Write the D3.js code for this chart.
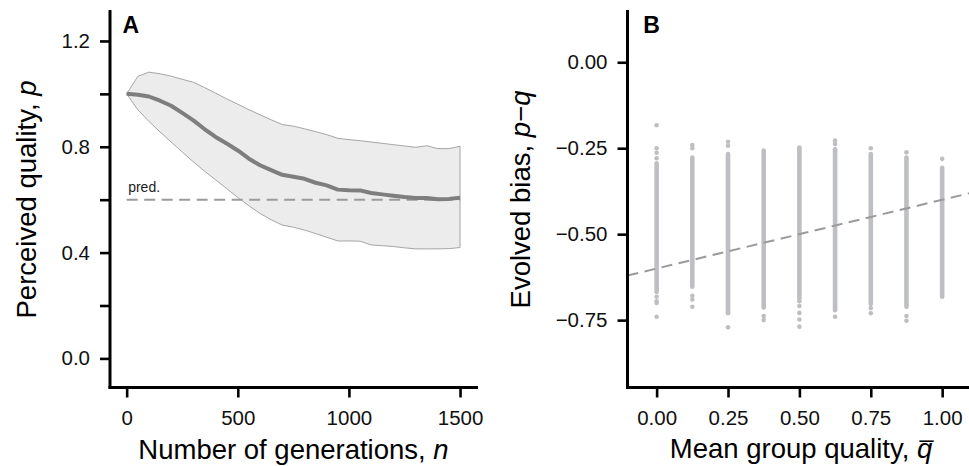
<!DOCTYPE html>
<html>
<head>
<meta charset="utf-8">
<script src="https://cdn.jsdelivr.net/npm/d3@7"></script>
<style>
  html, body { margin: 0; padding: 0; background: #fff; }
  svg { display: block; font-family: "Liberation Sans", Arial, Helvetica, sans-serif; }
</style>
</head>
<body>
<svg id="chart" width="969" height="466"></svg>
<script>
// ---------- Panel A data ----------
const generations = [0,50,100,150,200,250,300,350,400,450,500,550,600,650,700,750,800,850,900,950,1000,1050,1100,1150,1200,1250,1300,1350,1400,1450,1500];
const meanQuality  = [1.000,0.997,0.990,0.974,0.955,0.928,0.900,0.867,0.837,0.812,0.786,0.755,0.730,0.712,0.694,0.687,0.679,0.664,0.654,0.638,0.636,0.635,0.625,0.620,0.615,0.610,0.606,0.606,0.602,0.603,0.607];
const upperQuality = [1.000,1.066,1.082,1.076,1.067,1.055,1.044,1.024,1.003,0.981,0.961,0.940,0.921,0.902,0.884,0.878,0.868,0.857,0.846,0.832,0.827,0.823,0.818,0.813,0.808,0.803,0.798,0.804,0.793,0.793,0.802];
const lowerQuality = [1.000,0.940,0.896,0.856,0.818,0.780,0.743,0.708,0.675,0.642,0.608,0.577,0.548,0.524,0.504,0.496,0.485,0.472,0.458,0.444,0.444,0.443,0.429,0.426,0.423,0.418,0.414,0.414,0.414,0.415,0.419];
const predictedQuality = 0.6;
const xTicksA = [0,500,1000,1500];
const yTicksA = [0,0.2,0.4,0.6,0.8,1.0,1.2];
const yLabelledA = [0,0.4,0.8,1.2];

// ---------- Panel B data ----------
const groupQuality = [0,0.125,0.25,0.375,0.5,0.625,0.75,0.875,1.0];
const biasDenseLow  = [-0.668,-0.653,-0.730,-0.713,-0.687,-0.721,-0.703,-0.711,-0.682];
const biasDenseHigh = [-0.294,-0.277,-0.267,-0.257,-0.248,-0.253,-0.267,-0.277,-0.307];
const biasOutliers = [
  [-0.183,-0.250,-0.263,-0.279,-0.682,-0.695,-0.700,-0.740],
  [-0.241,-0.250,-0.679,-0.690,-0.711],
  [-0.231,-0.243,-0.771],
  [-0.738,-0.750],
  [-0.695,-0.709,-0.729,-0.748,-0.769],
  [-0.228,-0.238,-0.740],
  [-0.250,-0.715,-0.730],
  [-0.262,-0.738,-0.752],
  [-0.281]
];
const fitIntercept = -0.60;
const fitSlope = 0.20;
const xTicksB = [0,0.25,0.5,0.75,1.0];
const yTicksB = [0,-0.25,-0.5,-0.75];

// ---------- drawing ----------
const svg = d3.select("#chart");
const axisColor = "#000";
const tickFont = 20.5;
const titleFont = 27.5;

function styleAxis(g) {
  g.select(".domain").remove();
  g.selectAll(".tick line").attr("stroke", axisColor).attr("stroke-width", 2.6);
  g.selectAll(".tick text").attr("fill", "#111").style("font-size", tickFont + "px")
    .style("font-family", '"Liberation Sans", Arial, Helvetica, sans-serif');
}

// ===== Panel A =====
const xA = d3.scaleLinear().domain([-75, 1575]).range([110, 476.7]);
const yA = d3.scaleLinear().domain([-0.11, 1.317]).range([387.5, 10]);
const gA = svg.append("g");

const ribbon = d3.area()
  .x((d, i) => xA(generations[i]))
  .y0((d, i) => yA(lowerQuality[i]))
  .y1((d, i) => yA(upperQuality[i]));
gA.append("path").datum(generations)
  .attr("d", d => ribbon(d) + "Z")
  .attr("fill", "#ebeceb").attr("stroke", "#9c9c9c").attr("stroke-width", 0.9);

gA.append("line")
  .attr("x1", xA(0)).attr("x2", xA(1500))
  .attr("y1", yA(predictedQuality)).attr("y2", yA(predictedQuality))
  .attr("stroke", "#9a9a9a").attr("stroke-width", 2).attr("stroke-dasharray", "11,6.5");

gA.append("text").attr("x", xA(0) + 1.5).attr("y", yA(predictedQuality) - 8)
  .text("pred.").style("font-size", "14px").attr("fill", "#222");

const meanLine = d3.line().x((d, i) => xA(generations[i])).y((d, i) => yA(meanQuality[i]));
gA.append("path").datum(generations).attr("d", meanLine)
  .attr("fill", "none").attr("stroke", "#7e7e7e").attr("stroke-width", 4)
  .attr("stroke-linejoin", "round");

gA.append("g").attr("transform", "translate(0,387.5)")
  .call(d3.axisBottom(xA).tickValues(xTicksA).tickSize(10).tickPadding(12.5).tickFormat(d3.format("d")))
  .call(styleAxis);
gA.append("g").attr("transform", "translate(110,0)")
  .call(d3.axisLeft(yA).tickValues(yTicksA).tickSize(10).tickPadding(10)
    .tickFormat(d => yLabelledA.some(v => Math.abs(v - d) < 1e-9) ? d3.format(".1f")(d) : ""))
  .call(styleAxis);

gA.append("line").attr("x1", 110).attr("x2", 110).attr("y1", 10).attr("y2", 389)
  .attr("stroke", axisColor).attr("stroke-width", 3);
gA.append("line").attr("x1", 108.5).attr("x2", 478).attr("y1", 387.5).attr("y2", 387.5)
  .attr("stroke", axisColor).attr("stroke-width", 3);

gA.append("text").attr("x", 122.5).attr("y", 33.3).text("A")
  .style("font-size", "23px").style("font-weight", "bold");

const titleAx = gA.append("text").attr("x", (110 + 477) / 2).attr("y", 459)
  .attr("text-anchor", "middle").style("font-size", titleFont + "px");
titleAx.append("tspan").text("Number of generations, ");
titleAx.append("tspan").text("n").style("font-style", "italic");

const titleAy = gA.append("text").attr("transform", "translate(36," + ((10 + 389) / 2) + ") rotate(-90)")
  .attr("text-anchor", "middle").style("font-size", titleFont + "px");
titleAy.append("tspan").text("Perceived quality, ");
titleAy.append("tspan").text("p").style("font-style", "italic");

// ===== Panel B =====
const xB = d3.scaleLinear().domain([-0.102, 1.094]).range([627.5, 969]);
const yB = d3.scaleLinear().domain([-0.946, 0.152]).range([387.5, 10]);
const gB = svg.append("g");
const pointColor = "#bebfc3";

gB.selectAll("line.stack").data(groupQuality).join("line").attr("class", "stack")
  .attr("x1", d => xB(d)).attr("x2", d => xB(d))
  .attr("y1", (d, i) => yB(biasDenseLow[i])).attr("y2", (d, i) => yB(biasDenseHigh[i]))
  .attr("stroke", pointColor).attr("stroke-width", 4.6).attr("stroke-linecap", "round");

const outlierPts = [];
groupQuality.forEach((q, i) => biasOutliers[i].forEach(b => outlierPts.push({q, b})));
gB.selectAll("circle.out").data(outlierPts).join("circle").attr("class", "out")
  .attr("cx", d => xB(d.q)).attr("cy", d => yB(d.b)).attr("r", 2.3).attr("fill", pointColor);

const fitDomain = xB.domain();
gB.append("line")
  .attr("x1", xB(fitDomain[0])).attr("y1", yB(fitIntercept + fitSlope * fitDomain[0]))
  .attr("x2", xB(fitDomain[1])).attr("y2", yB(fitIntercept + fitSlope * fitDomain[1]))
  .attr("stroke", "#9a9a9a").attr("stroke-width", 2).attr("stroke-dasharray", "11,6.5");

gB.append("g").attr("transform", "translate(0,387.5)")
  .call(d3.axisBottom(xB).tickValues(xTicksB).tickSize(10).tickPadding(12.5).tickFormat(d3.format(".2f")))
  .call(styleAxis);
gB.append("g").attr("transform", "translate(627.5,0)")
  .call(d3.axisLeft(yB).tickValues(yTicksB).tickSize(10).tickPadding(10).tickFormat(d3.format(".2f")))
  .call(styleAxis);

gB.append("line").attr("x1", 627.5).attr("x2", 627.5).attr("y1", 10).attr("y2", 389)
  .attr("stroke", axisColor).attr("stroke-width", 3);
gB.append("line").attr("x1", 626).attr("x2", 969).attr("y1", 387.5).attr("y2", 387.5)
  .attr("stroke", axisColor).attr("stroke-width", 3);

gB.append("text").attr("x", 643.3).attr("y", 33.3).text("B")
  .style("font-size", "23px").style("font-weight", "bold");

const titleBxY = 458;
const titleBx = gB.append("text").attr("x", 801).attr("y", titleBxY)
  .attr("text-anchor", "middle").style("font-size", titleFont + "px");
titleBx.append("tspan").text("Mean group quality, ");
titleBx.append("tspan").text("q").style("font-style", "italic");
// overline over the italic q, placed from the glyph's own extent
const tbNode = titleBx.node();
const qExt = tbNode.getExtentOfChar(tbNode.getNumberOfChars() - 1);
gB.append("line")
  .attr("x1", qExt.x + 2.5).attr("x2", qExt.x + qExt.width + 1.5)
  .attr("y1", titleBxY - 16.8).attr("y2", titleBxY - 16.8)
  .attr("stroke", "#000").attr("stroke-width", 1.6);

const titleBy = gB.append("text").attr("transform", "translate(530," + ((10 + 389) / 2) + ") rotate(-90)")
  .attr("text-anchor", "middle").style("font-size", titleFont + "px");
titleBy.append("tspan").text("Evolved bias, ");
titleBy.append("tspan").text("p").style("font-style", "italic");
titleBy.append("tspan").text("\u2212");
titleBy.append("tspan").text("q").style("font-style", "italic");
</script>
</body>
</html>
